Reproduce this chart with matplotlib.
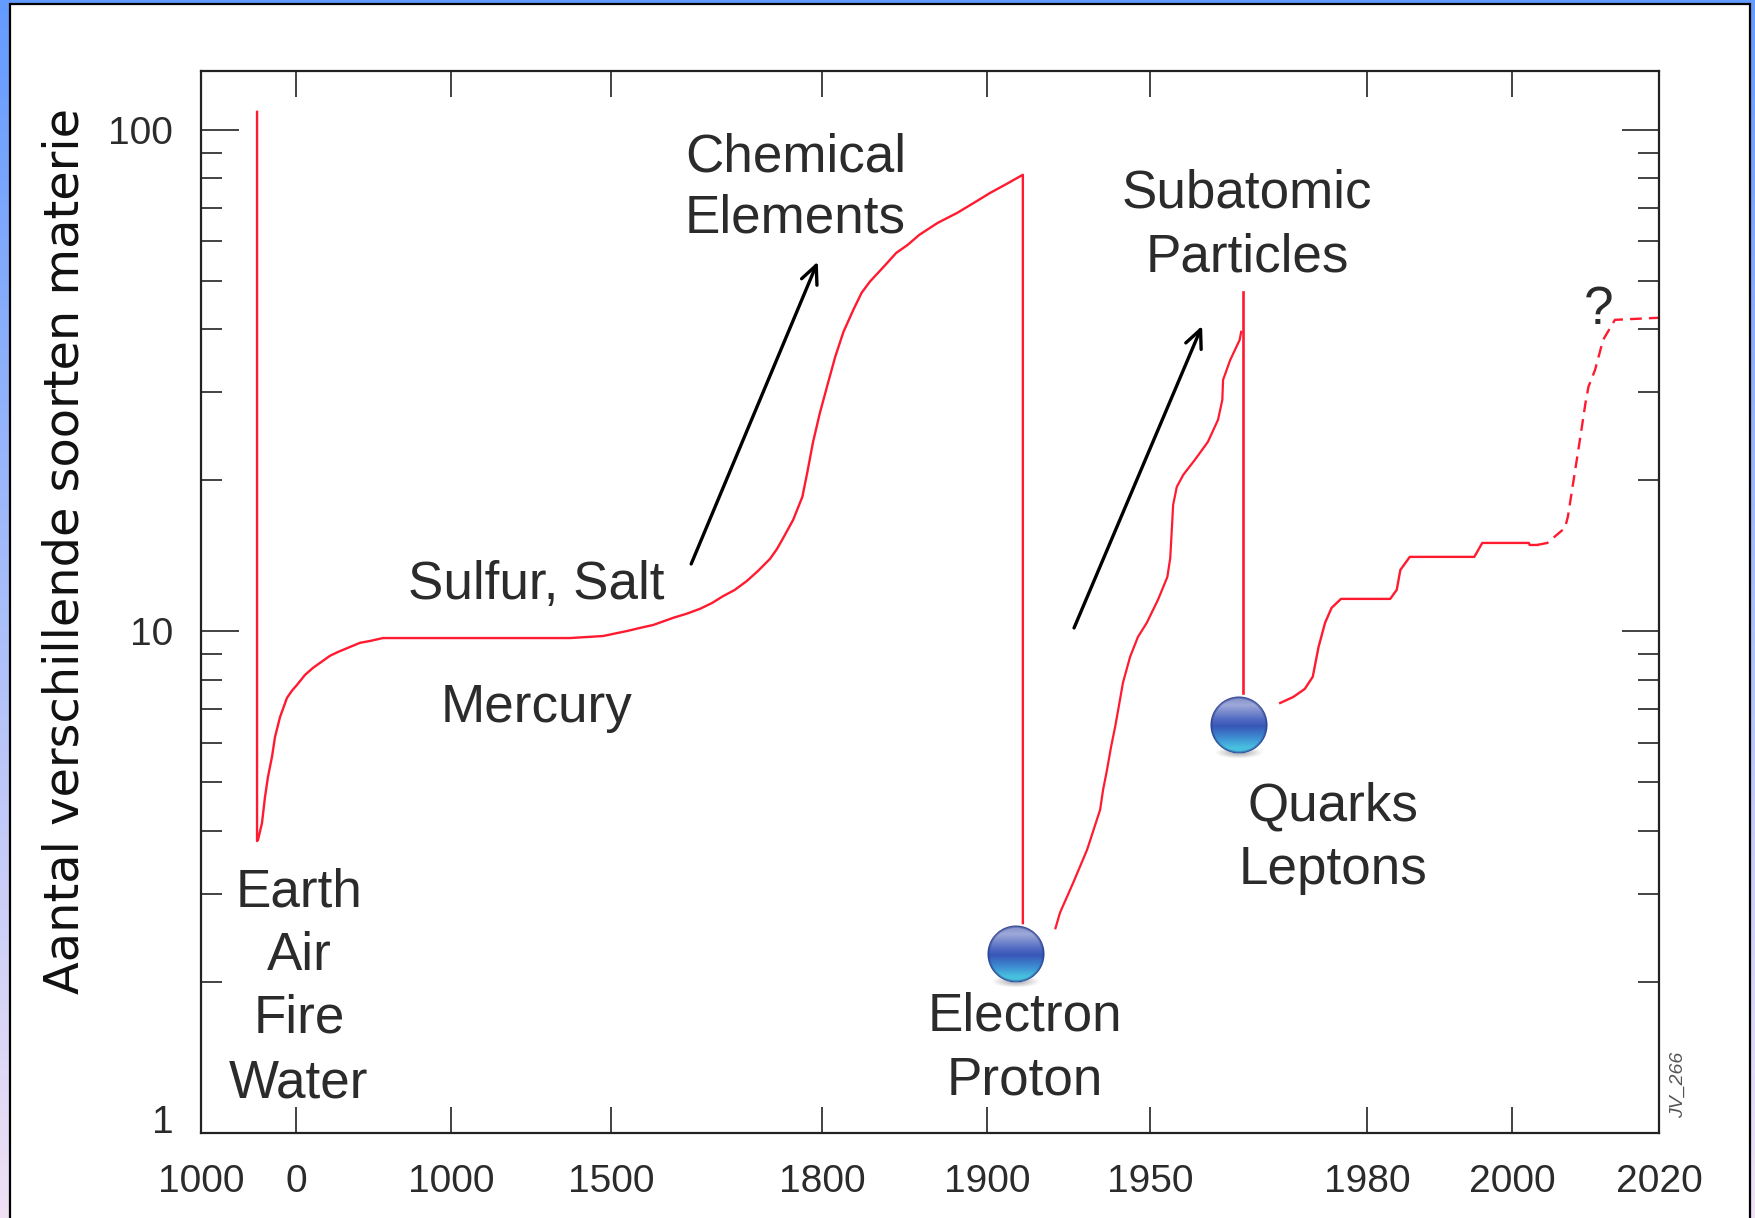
import matplotlib
matplotlib.use('Agg')
import matplotlib.pyplot as plt
import numpy as np
from matplotlib.offsetbox import AnnotationBbox, OffsetImage
from matplotlib.patches import Rectangle

# x axis is stretched piecewise, tick years and where they sit (pixels)
tick_years = [-1000, 0, 1000, 1500, 1800, 1900, 1950, 1980, 2000, 2020]
tick_pos = [201, 296, 451, 611, 822, 987, 1150, 1367, 1512, 1659]
tick_labels = ['1000', '0', '1000', '1500', '1800', '1900', '1950', '1980', '2000', '2020']

# classical elements up to the chemical elements
elem_years = [-410, -410, -400, -358, -326, -295, -274, -253, -221, -168, -95, -42, 6, 58, 110, 219, 271, 348, 413, 477, 561,
              1372, 1475, 1523, 1541, 1560, 1589, 1608, 1627, 1644, 1659, 1676, 1693, 1709, 1726, 1736, 1745, 1759, 1772, 1779,
              1787, 1797, 1803, 1808, 1813, 1819, 1824, 1829, 1838, 1845, 1852, 1859, 1870, 1882, 1892, 1901, 1906, 1911, 1911]
elem_counts = [108.6, 3.82, 3.84, 4.15, 4.68, 5.13, 5.37, 5.62, 6.16, 6.75, 7.37, 7.62, 7.82, 8.19, 8.46, 8.94, 9.10, 9.31, 9.49, 9.57, 9.70,
               9.70, 9.79, 10.02, 10.16, 10.30, 10.65, 10.85, 11.10, 11.40, 11.75, 12.10, 12.60, 13.20, 13.95, 14.60, 15.37, 16.69, 18.54, 20.71,
               23.76, 27.27, 30.73, 35.27, 39.56, 43.77, 47.32, 49.8, 53.6, 56.84, 59.0, 61.76, 65.2, 68.32, 71.5, 74.88, 78.0, 81.35, 2.62]

# subatomic particles
sub_years = [1921, 1922.4, 1926.4, 1930.7, 1934.7, 1935.6, 1936.8, 1938, 1939.3, 1940.5, 1941.7, 1943.9, 1946.3, 1949, 1951.1,
             1952.4, 1952.8, 1953.2, 1953.7, 1954.6, 1956.2, 1958, 1959.4, 1960, 1960.1, 1961.1, 1962.4, 1962.6]
sub_counts = [2.56, 2.75, 3.15, 3.67, 4.41, 4.83, 5.29, 5.86, 6.45, 7.13, 7.90, 8.90, 9.75, 10.40, 11.56,
              12.84, 14.01, 17.88, 19.41, 20.52, 21.98, 23.87, 26.41, 28.95, 31.73, 34.79, 38.14, 39.56]
drop_years = [1962.9, 1962.9]
drop_counts = [47.5, 7.54]

# quarks and leptons, measured part then the guess
quark_years = [1968, 1969.8, 1971.4, 1972.5, 1973.3, 1974.2, 1975.1, 1976.4, 1983.2, 1984.1, 1984.6,
               1985.9, 1994.8, 1995.9, 2002.3, 2002.4, 2003.4]
quark_counts = [7.20, 7.40, 7.68, 8.12, 9.31, 10.40, 11.14, 11.61, 11.61, 12.10, 13.26,
                14.08, 14.08, 15.01, 15.01, 14.87, 14.87]
guess_years = [2003.4, 2004.8, 2007.2, 2007.6, 2008.6, 2009.3, 2010, 2010.4, 2011.3, 2012.4, 2014, 2020]
guess_counts = [14.87, 15.01, 16.08, 16.92, 20.99, 24.42, 28.56, 30.73, 33.22, 38.14, 41.8, 42.2]

# tail and head of both arrows
arrow_tails = [(1614, 13.63), (1926.7, 10.16)]
arrow_heads = [(1794, 54.6), (1957.2, 40.66)]

marbles = [(1908.9, 2.27), (1962.3, 6.5)]

labels = [('Chemical', 1762, 88.2), ('Elements', 1762, 66.7),
          ('Subatomic', 1963.4, 74.5), ('Particles', 1963.4, 55.6),
          ('Sulfur, Salt', 1266, 12.37), ('Mercury', 1266, 7.02),
          ('Earth', 19, 3.01), ('Air', 19, 2.25), ('Fire', 19, 1.69), ('Water', 19, 1.255),
          ('Electron', 1911.7, 1.71), ('Proton', 1911.7, 1.275),
          ('Quarks', 1975.3, 4.48), ('Leptons', 1975.3, 3.34),
          ('?', 2011.8, 43.8)]

RED = '#ff1a30'
INK = '#2b2b2b'
SANS = 'Liberation Sans'


def forward(x):
    return np.interp(x, tick_years, tick_pos)


def inverse(x):
    return np.interp(x, tick_pos, tick_years)


def marble_image(size=64):
    # glossy blue ball, drawn pixel by pixel
    yy, xx = np.mgrid[0:size, 0:size] + 0.5
    cx, cy, r = size / 2, size / 2 - 3, 28.5
    d = np.hypot(xx - cx, yy - cy) / r
    t = np.clip((yy - (cy - r)) / (2 * r), 0, 1)
    stops = [0, 0.15, 0.4, 0.52, 0.72, 0.9, 1]
    img = np.zeros((size, size, 4))
    img[..., 0] = np.interp(t, stops, [0.5, 0.62, 0.32, 0.22, 0.24, 0.28, 0.3])
    img[..., 1] = np.interp(t, stops, [0.55, 0.66, 0.42, 0.34, 0.55, 0.76, 0.72])
    img[..., 2] = np.interp(t, stops, [0.78, 0.85, 0.76, 0.72, 0.82, 0.88, 0.86])
    rim = np.clip((d - 0.9) / 0.1, 0, 1)[..., None]
    img[..., :3] = img[..., :3] * (1 - rim) + np.array([0.16, 0.24, 0.55]) * rim
    img[..., 3] = np.clip((1 - d) * r + 0.5, 0, 1)
    # soft shadow under the ball
    shadow = np.clip(1 - np.hypot((xx - cx) / 24, (yy - (cy + r - 1)) / 6), 0, 1) * 0.6
    out = img[..., 3] < 1
    img[..., :3][out & (img[..., 3] == 0)] = 0.4
    img[..., 3] = np.maximum(img[..., 3], shadow * out)
    return img


fig = plt.figure(figsize=(17.56, 12.18), dpi=100)

# page background: blue to pink strip, white card with black edge
bg = fig.add_axes([0, 0, 1, 1], zorder=-1)
grad = np.linspace(0, 1, 256)[:, None]
grad = np.dstack([0.39 + 0.55 * grad, 0.61 + 0.27 * grad, 1.0 - 0.04 * grad])
bg.imshow(grad, extent=[0, 1756, 1218, 0], aspect='auto')
bg.add_patch(Rectangle((10, 4), 1740, 1230, fc='white', ec='black', lw=1.6))
bg.set_xlim(0, 1756)
bg.set_ylim(1218, 0)
bg.axis('off')

ax = fig.add_axes([201 / 1756, 1 - 1133 / 1218, 1458 / 1756, 1062 / 1218])
ax.set_xscale('function', functions=(forward, inverse))
ax.set_yscale('log')
ax.set_xlim(-1000, 2020)
ax.set_ylim(1, 131)

ax.plot(elem_years, elem_counts, color=RED, lw=1.7)
ax.plot(sub_years, sub_counts, color=RED, lw=1.6)
ax.plot(drop_years, drop_counts, color=RED, lw=1.9)
ax.plot(quark_years, quark_counts, color=RED, lw=1.7)
ax.plot(guess_years, guess_counts, color=RED, lw=1.7, dashes=(5, 3))

for tail, head in zip(arrow_tails, arrow_heads):
    ax.annotate('', xy=head, xytext=tail,
                arrowprops=dict(arrowstyle='->,head_length=1.3,head_width=0.6', color='black',
                                lw=2.4, shrinkA=0, shrinkB=0))

ball = marble_image()
for pos in marbles:
    ax.add_artist(AnnotationBbox(OffsetImage(ball, zoom=1, dpi_cor=False), pos, frameon=False,
                                 pad=0, box_alignment=(0.5, 0.547), zorder=5))

for text, year, count in labels:
    ax.text(year, count, text, family=SANS, fontsize=38.2, color=INK, ha='center', va='center', zorder=6)

ax.set_xticks(tick_years)
ax.set_xticklabels(tick_labels, family=SANS, fontsize=28, color=INK)
ax.set_yticks([1, 10, 100])
ax.set_yticklabels(['1', '10', '100'], family=SANS, fontsize=28, color=INK)
ax.set_yticks([m * d for d in (1, 10) for m in range(2, 10)], minor=True)
ax.set_yticklabels([], minor=True)
ax.get_yticklabels()[0].set_verticalalignment('baseline')

ax.tick_params(axis='x', which='major', direction='in', top=True, length=19, width=1.2, pad=22, color='#222222')
ax.tick_params(axis='y', which='major', direction='in', right=True, length=27, width=1.2, pad=20, color='#222222')
ax.tick_params(axis='y', which='minor', direction='in', right=True, length=15, width=1.2, color='#222222')
for spine in ax.spines.values():
    spine.set_linewidth(1.6)
    spine.set_color('#222222')

fig.text(65 / 1756, 1 - 551 / 1218, 'Aantal verschillende soorten materie', family='DejaVu Sans',
         fontsize=34.5, rotation=90, ha='center', va='center', color='#111111')
fig.text(1678 / 1756, 1 - 1085 / 1218, 'JV_266', family=SANS, style='italic', fontsize=14,
         rotation=90, ha='center', va='center', color='#555555')

fig.savefig('out.png', dpi=100)
